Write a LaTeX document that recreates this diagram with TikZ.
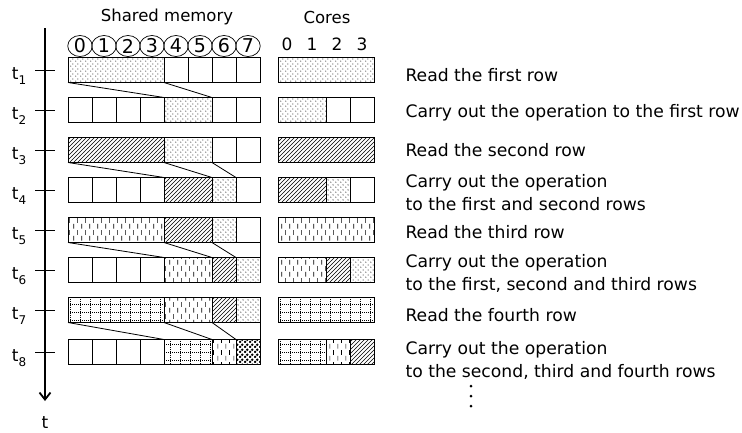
\documentclass[tikz,border=0pt]{standalone}
\usepackage{fontspec}
\setmainfont{DejaVu Sans}
\usetikzlibrary{patterns, arrows.meta, shapes.geometric}

% fill patterns for the rows
\pgfdeclarepatternformonly{finedots}{\pgfqpoint{0pt}{0pt}}{\pgfqpoint{5pt}{5pt}}{\pgfqpoint{5pt}{5pt}}{%
  \pgfpathcircle{\pgfqpoint{1pt}{1pt}}{0.6pt}%
  \pgfpathcircle{\pgfqpoint{3.5pt}{3.5pt}}{0.6pt}%
  \pgfusepath{fill}}
\pgfdeclarepatternformonly{hatch}{\pgfqpoint{-1pt}{-1pt}}{\pgfqpoint{5pt}{5pt}}{\pgfqpoint{4pt}{4pt}}{%
  \pgfsetlinewidth{0.5pt}%
  \pgfpathmoveto{\pgfqpoint{0pt}{0pt}}\pgfpathlineto{\pgfqpoint{4.1pt}{4.1pt}}%
  \pgfusepath{stroke}}
\pgfdeclarepatternformonly{vdashes}{\pgfqpoint{0pt}{0pt}}{\pgfqpoint{8pt}{12pt}}{\pgfqpoint{8pt}{12pt}}{%
  \pgfsetlinewidth{0.7pt}%
  \pgfpathmoveto{\pgfqpoint{2pt}{0.5pt}}\pgfpathlineto{\pgfqpoint{2pt}{5.5pt}}%
  \pgfpathmoveto{\pgfqpoint{6pt}{6.5pt}}\pgfpathlineto{\pgfqpoint{6pt}{11.5pt}}%
  \pgfusepath{stroke}}
\pgfdeclarepatternformonly{dotgrid}{\pgfqpoint{-1pt}{-1pt}}{\pgfqpoint{11pt}{9pt}}{\pgfqpoint{10pt}{8pt}}{%
  \pgfsetlinewidth{0.4pt}%
  \pgfsetdash{{0.7pt}{1.3pt}}{0pt}%
  \pgfpathmoveto{\pgfqpoint{0pt}{0pt}}\pgfpathlineto{\pgfqpoint{10pt}{0pt}}%
  \pgfpathmoveto{\pgfqpoint{0pt}{0pt}}\pgfpathlineto{\pgfqpoint{0pt}{8pt}}%
  \pgfusepath{stroke}}
\pgfdeclarepatternformonly{blobs}{\pgfqpoint{0pt}{0pt}}{\pgfqpoint{4.6pt}{4.6pt}}{\pgfqpoint{4.6pt}{4.6pt}}{%
  \pgfpathcircle{\pgfqpoint{1.15pt}{1.15pt}}{1.5pt}%
  \pgfpathcircle{\pgfqpoint{3.45pt}{3.45pt}}{1.5pt}%
  \pgfusepath{fill}}

\newcommand{\tsb}[1]{t\raisebox{-0.3em}{\fontsize{12}{12}\selectfont #1}}

\tikzset{
  cell/.style={draw, line width=0.8pt, minimum width=24pt, minimum height=25pt, inner sep=0pt, outer sep=0pt},
  blk/.style={draw, line width=0.9pt, minimum height=25pt, inner sep=0pt, outer sep=0pt},
  w1/.style={minimum width=24pt},
  w2/.style={minimum width=48pt},
  w4/.style={minimum width=96pt},
  dotfill/.style={blk, pattern=finedots},
  hatchfill/.style={blk, pattern=hatch},
  dashfill/.style={blk, pattern=vdashes},
  gridfill/.style={blk, pattern=dotgrid},
  blobfill/.style={blk, pattern=blobs},
  circ/.style={draw, ellipse, line width=0.7pt, minimum width=24.5pt, minimum height=21pt, inner sep=0pt, font=\fontsize{19}{19}\selectfont},
  desc/.style={anchor=west, align=left, font=\fontsize{17.2}{23}\selectfont},
  tl/.style={anchor=base, inner sep=0pt, font=\fontsize{17}{19}\selectfont},
  link/.style={line width=0.8pt},
}

\begin{document}
\begin{tikzpicture}[x=1pt, y=-1pt, every node/.style={font=\fontsize{16.5}{19}\selectfont}]
\useasboundingbox (0,0) rectangle (742,432);

% headers
\node (hm) at (167,17) {Shared memory};
\node (hc) at (327,17) {Cores};
\foreach \i in {0,...,7}
  \node[circ] (c\i) at ({80+24*\i},46) {\i};
\foreach \i in {0,...,3}
  \node[font=\fontsize{17}{19}\selectfont] (k\i) at ({287+25*\i},44) {\i};

% time axis
\coordinate (top) at (45,28);
\coordinate (tip) at (45,401);
\draw[line width=1.8pt, -{Straight Barb[length=7pt,width=11pt]}] (top) -- (tip);
\node[font=\fontsize{17}{19}\selectfont] (tt) at (45,423) {t};
\foreach \y in {70,110,150,190,230,270,310,352}
  \draw[line width=0.8pt] (35,\y) -- (55,\y);
\node[tl] (t1) at (19,79) {\tsb{1}};
\node[tl] (t2) at (19,119) {\tsb{2}};
\node[tl] (t3) at (19,159) {\tsb{3}};
\node[tl] (t4) at (19,199) {\tsb{4}};
\node[tl] (t5) at (19,239) {\tsb{5}};
\node[tl] (t6) at (19,279) {\tsb{6}};
\node[tl] (t7) at (19,319) {\tsb{7}};
\node[tl] (t8) at (19,361) {\tsb{8}};

% t1
\node[dotfill, w4] (m1a) at (116,70) {};
\foreach \i in {4,...,7} \node[cell] at ({80+24*\i},70) {};
\node[dotfill, w4] (k1a) at (326,70) {};

% t2
\foreach \i in {0,...,3} \node[cell] at ({80+24*\i},110) {};
\node[dotfill, w2] (m2a) at (188,110) {};
\foreach \i in {6,7} \node[cell] at ({80+24*\i},110) {};
\node[dotfill, w2] (k2a) at (302,110) {};
\node[cell] (k2b) at (338,110) {};
\node[cell] (k2c) at (362,110) {};

% t3
\node[hatchfill, w4] (m3a) at (116,150) {};
\node[dotfill, w2] (m3b) at (188,150) {};
\foreach \i in {6,7} \node[cell] at ({80+24*\i},150) {};
\node[hatchfill, w4] (k3a) at (326,150) {};

% t4
\foreach \i in {0,...,3} \node[cell] at ({80+24*\i},190) {};
\node[hatchfill, w2] (m4a) at (188,190) {};
\node[dotfill, w1] (m4b) at (224,190) {};
\node[cell] (m4c) at (248,190) {};
\node[hatchfill, w2] (k4a) at (302,190) {};
\node[dotfill, w1] (k4b) at (338,190) {};
\node[cell] (k4c) at (362,190) {};

% t5
\node[dashfill, w4] (m5a) at (116,230) {};
\node[hatchfill, w2] (m5b) at (188,230) {};
\node[dotfill, w1] (m5c) at (224,230) {};
\node[cell] (m5d) at (248,230) {};
\node[dashfill, w4] (k5a) at (326,230) {};

% t6
\foreach \i in {0,...,3} \node[cell] at ({80+24*\i},270) {};
\node[dashfill, w2] (m6a) at (188,270) {};
\node[hatchfill, w1] (m6b) at (224,270) {};
\node[dotfill, w1] (m6c) at (248,270) {};
\node[dashfill, w2] (k6a) at (302,270) {};
\node[hatchfill, w1] (k6b) at (338,270) {};
\node[dotfill, w1] (k6c) at (362,270) {};

% t7
\node[gridfill, w4] (m7a) at (116,310) {};
\node[dashfill, w2] (m7b) at (188,310) {};
\node[hatchfill, w1] (m7c) at (224,310) {};
\node[dotfill, w1] (m7d) at (248,310) {};
\node[gridfill, w4] (k7a) at (326,310) {};

% t8
\foreach \i in {0,...,3} \node[cell] at ({80+24*\i},352) {};
\node[gridfill, w2] (m8a) at (188,352) {};
\node[dashfill, w1] (m8b) at (224,352) {};
\node[blobfill, w1] (m8c) at (248,352) {};
\node[gridfill, w2] (k8a) at (302,352) {};
\node[dashfill, w1] (k8b) at (338,352) {};
\node[hatchfill, w1] (k8c) at (362,352) {};

% shifts between rows
\draw[link] (m1a.south west) -- (m2a.north west);
\draw[link] (m1a.south east) -- (m2a.north east);
\draw[link] (m3a.south west) -- (m4a.north west);
\draw[link] (m3b.south west) -- (m4b.north west);
\draw[link] (m3b.south east) -- (m4c.north west);
\draw[link] (m5a.south west) -- (m6a.north west);
\draw[link] (m5b.south west) -- (m6b.north west);
\draw[link] (m5c.south west) -- (m6c.north west);
\draw[link] (m5d.south east) -- (m6c.north east);
\draw[link] (m7a.south west) -- (m8a.north west);
\draw[link] (m7b.south west) -- (m8b.north west);
\draw[link] (m7c.south west) -- (m8c.north west);
\draw[link] (m7d.south east) -- (m8c.north east);

% descriptions
\node[desc] (d1) at (402,75) {Read the first row};
\node[desc] (d2) at (402,113) {Carry out the operation to the first row};
\node[desc] (d3) at (402,150) {Read the second row};
\node[desc] (d4) at (402,193) {Carry out the operation\\to the first and second rows};
\node[desc] (d5) at (402,232) {Read the third row};
\node[desc] (d6) at (402,273) {Carry out the operation\\to the first, second and third rows};
\node[desc] (d7) at (402,315) {Read the fourth row};
\node[desc] (d8) at (402,360) {Carry out the operation\\to the second, third and fourth rows};
\foreach \y in {386,396,406}
  \fill (471,\y) circle (1.5);

\end{tikzpicture}
\end{document}
